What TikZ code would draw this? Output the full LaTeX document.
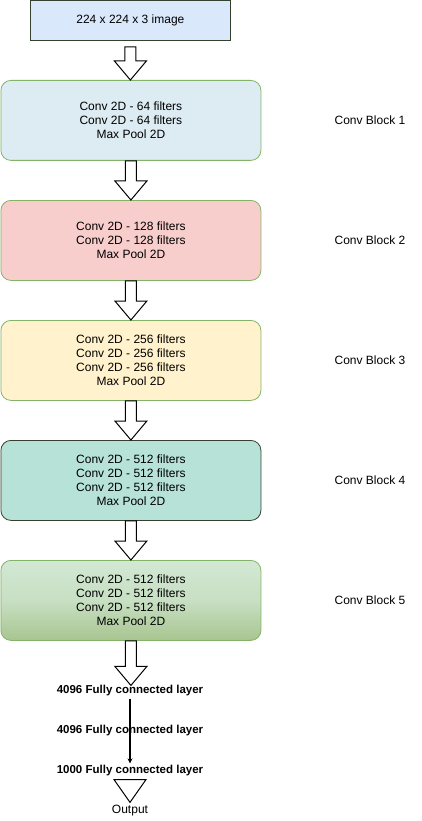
\documentclass[tikz,border=0pt]{standalone}
\usepackage{fontspec}
\setmainfont{Liberation Sans}
\usetikzlibrary{calc,arrows.meta}
\definecolor{bluefill}{HTML}{DAE8FC}
\definecolor{b1fill}{HTML}{DCECF2}
\definecolor{b2fill}{HTML}{F8CECC}
\definecolor{b3fill}{HTML}{FFF2CC}
\definecolor{b4fill}{HTML}{B6E2D7}
\definecolor{b5top}{HTML}{D2E8D4}
\definecolor{b5bot}{HTML}{A8C590}
\definecolor{greenline}{HTML}{82B366}
\definecolor{darkline}{HTML}{36402E}
\newcommand\blockarr[3][0pt]{%
  \draw[barrow] let \p1=(#2), \p2=(#3) in
    (\x1-5.5pt,\y1-#1) -- (\x1+5.5pt,\y1-#1) -- (\x1+5.5pt,\y2+19pt) -- (\x1+16pt,\y2+19pt)
    -- (\x1,\y2) -- (\x1-16pt,\y2+19pt) -- (\x1-5.5pt,\y2+19pt) -- cycle;}
\begin{document}
\begin{tikzpicture}[x=1pt,y=-1pt,
  every node/.style={font=\fontsize{12}{13.8}\selectfont, text=black, inner sep=0pt},
  block/.style={rounded corners=10pt, minimum width=260pt, minimum height=80pt, align=center, anchor=north west, draw=greenline, line width=0.8pt},
  sidelabel/.style={anchor=center},
  fclabel/.style={font=\fontsize{11.5}{13.8}\selectfont\bfseries},
  barrow/.style={draw=black, fill=white, line width=1pt}]
\useasboundingbox[fill=white] (0,0) rectangle (421,821);
\node[draw=darkline, fill=bluefill, line width=0.8pt, minimum width=200pt, minimum height=40pt, anchor=north west] (img) at (30,0.5) {224 x 224 x 3 image};
\node[block, fill=b1fill] (b1) at (0.5,80) {Conv 2D - 64 filters\\Conv 2D - 64 filters\\Max Pool 2D};
\node[block, fill=b2fill] (b2) at (0.5,200) {Conv 2D - 128 filters\\Conv 2D - 128 filters\\Max Pool 2D};
\node[block, fill=b3fill] (b3) at (0.5,320) {Conv 2D - 256 filters\\Conv 2D - 256 filters\\Conv 2D - 256 filters\\Max Pool 2D};
\node[block, fill=b4fill, draw=darkline] (b4) at (0.5,440) {Conv 2D - 512 filters\\Conv 2D - 512 filters\\Conv 2D - 512 filters\\Max Pool 2D};
\node[block, top color=b5top, bottom color=b5bot, middle color=b5top!75!b5bot, shading angle=0] (b5) at (0.5,560) {Conv 2D - 512 filters\\Conv 2D - 512 filters\\Conv 2D - 512 filters\\Max Pool 2D};
\node[sidelabel] (l1) at (370,120) {Conv Block 1};
\node[sidelabel] (l2) at (370,240) {Conv Block 2};
\node[sidelabel] (l3) at (370,360) {Conv Block 3};
\node[sidelabel] (l4) at (370,480) {Conv Block 4};
\node[sidelabel] (l5) at (370,600) {Conv Block 5};
\node[fclabel] (fc1) at (130,691) {4096 Fully connected layer};
\node[fclabel] (fc2) at (130,731) {4096 Fully connected layer};
\node[fclabel] (fc3) at (130,771) {1000 Fully connected layer};
\node (out) at (130,811) {Output};
\blockarr[5.5pt]{img.south}{b1.north}
\blockarr{b1.south}{b2.north}
\blockarr{b2.south}{b3.north}
\blockarr{b3.south}{b4.north}
\blockarr{b4.south}{b5.north}
\blockarr{b5.south}{fc1.north}
\draw[line width=1.5pt, -{Stealth[length=5pt,width=5pt]}] ($(fc1.south)+(0,2)$) -- ($(fc3.north)+(0,-2)$);
\draw[barrow] let \p1=($(fc3.south)+(0,3)$), \p2=($(out.north)+(0,-3)$) in
  (\x1-16pt,\y1) -- (\x1+16pt,\y1) -- (\x2,\y2) -- cycle;
\end{tikzpicture}
\end{document}
